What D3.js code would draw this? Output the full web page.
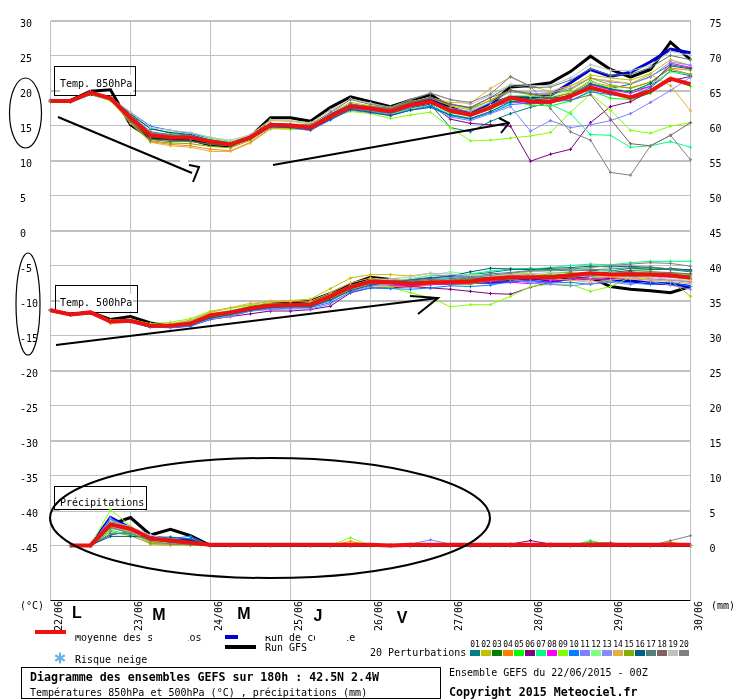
<!doctype html>
<html>
	<head>
		<meta charset="utf-8">
		<style type="text/css">
			body { margin: 0; background: white; }
			svg { will-change: transform; }
			text { font-family: "DejaVu Sans Mono", monospace; font-size: 10px; fill: black; }
		</style>
		<script src="https://d3js.org/d3.v7.min.js"></script>
	</head>
	<body>
		<svg width="740" height="700"></svg>
		<script type="text/javascript">

			var dayLabels = ["22/06", "23/06", "24/06", "25/06", "26/06", "27/06", "28/06", "29/06", "30/06"];
			var dayTicks = [0, 4, 8, 12, 16, 20, 24, 28, 32];
			var weekDays = ["L", "M", "M", "J", "V"];
			var tempTicks = [30, 25, 20, 15, 10, 5, 0, -5, -10, -15, -20, -25, -30, -35, -40, -45];
			var rainTicks = [75, 70, 65, 60, 55, 50, 45, 40, 35, 30, 25, 20, 15, 10, 5, 0];
			var perturbNames = ["01", "02", "03", "04", "05", "06", "07", "08", "09", "10", "11", "12", "13", "14", "15", "16", "17", "18", "19", "20"];
			var perturbColors = ["#008080", "#c0c000", "#008000", "#ff8000", "#00ff00", "#800080", "#00ff80", "#ff00ff", "#80ff00", "#0080ff", "#8080ff", "#80ff80", "#8888ff", "#e0b040", "#80b000", "#006080", "#508080", "#806060", "#c0c0c0", "#808080"];

			// temperature 850hPa
			var t850Mean = [18.5, 18.5, 19.7, 18.9, 16.1, 13.6, 13.3, 13.3, 12.7, 12.3, 13.3, 15.1, 15, 14.7, 16.3, 17.7, 17.4, 17, 17.9, 18.4, 17.1, 16.5, 17.6, 19, 18.4, 18.4, 19.2, 20.4, 19.7, 19, 19.9, 21.7, 20.9];
			var t850Gfs = [18.5, 18.6, 19.9, 20.1, 15.1, 13.2, 13.1, 13, 12.2, 12.1, 13.4, 16.1, 16.1, 15.6, 17.6, 19.1, 18.4, 17.7, 18.6, 19.4, 17.6, 16.6, 18, 20.5, 20.7, 21.1, 22.7, 24.9, 23, 21.9, 23, 26.9, 24.4];
			var t850Control = [18.5, 18.5, 19.7, 18.9, 16.2, 13.5, 13.2, 13.2, 12.7, 12.3, 13.3, 15.1, 15, 14.7, 16.5, 17.9, 17.5, 17.2, 18.1, 18.8, 17.2, 16.7, 18, 19.1, 19, 19.3, 21.1, 23, 22, 22.6, 24.1, 25.9, 25.4];
			var t850P01 = [18.6, 18.3, 19.4, 18.6, 16.6, 14.6, 13.9, 13.6, 12.9, 12.5, 13.3, 14.9, 14.8, 14.5, 16.1, 17.4, 17.1, 16.7, 17.6, 18, 14.7, 14.1, 15.6, 16.7, 17.6, 18.3, 19.5, 21, 20.3, 20.9, 22, 23.7, 23.2];
			var t850P02 = [18.5, 18.6, 19.8, 19, 16.5, 13.9, 13.5, 13.3, 12.8, 12.4, 13.6, 15.7, 15.6, 15.2, 16.9, 18.3, 17.8, 17.5, 18.4, 18.9, 17.8, 17.2, 18.6, 19.9, 19.4, 19.6, 20.6, 22.2, 21.8, 21.5, 22.4, 24.4, 23.6];
			var t850P03 = [18.5, 18.5, 19.6, 18.8, 15.7, 13.1, 12.9, 12.8, 12.3, 12.1, 13.1, 14.9, 14.8, 14.6, 16.4, 17.8, 17.5, 17.2, 18, 18.5, 17.3, 16.8, 17.9, 19.3, 18.9, 19, 19.6, 21.4, 20.2, 19.9, 20.6, 22.8, 22.3];
			var t850P04 = [18.4, 18.5, 19.7, 18.8, 15.5, 12.7, 12.3, 12.1, 11.6, 11.4, 12.6, 14.6, 14.6, 14.5, 16.1, 17.6, 17.2, 16.8, 17.7, 18.5, 17, 16.4, 17.4, 18.8, 18.6, 18.8, 19.7, 21.2, 20.6, 20.4, 21.2, 23.2, 22.9];
			var t850P05 = [18.5, 18.4, 19.6, 18.7, 15.9, 13.4, 13.2, 13.1, 12.8, 12.6, 13.5, 15.2, 15, 14.8, 16.2, 17.5, 17.2, 16.9, 17.7, 18.2, 16.8, 16.4, 17.3, 18.6, 17.9, 17.8, 18.5, 20, 18.9, 18.7, 19.6, 21.7, 20.6];
			var t850P06 = [18.6, 18.4, 19.5, 18.7, 16, 13.4, 13.3, 13.4, 13, 12.7, 13.3, 14.8, 14.7, 14.4, 16, 17.4, 17.1, 16.7, 17.5, 18.1, 15.9, 15.3, 15.1, 14.9, 9.9, 10.9, 11.6, 15.4, 17.7, 18.4, 19.9, 21.4, 22];
			var t850P07 = [18.5, 18.5, 19.7, 18.9, 16.2, 13.7, 13.5, 13.5, 13, 12.6, 13.4, 15.1, 14.9, 14.6, 16, 17.3, 17, 16.6, 17.4, 17.9, 16.6, 16, 17, 18.2, 18.7, 18, 16.7, 13.7, 13.6, 11.9, 12.1, 12.7, 11.9];
			var t850P08 = [18.6, 18.6, 19.8, 19, 16.2, 13.5, 13.2, 13.1, 12.6, 12.2, 13.3, 15, 15, 14.8, 16.5, 17.9, 17.4, 17, 17.9, 18.3, 17.2, 16.7, 17.6, 18.4, 18.1, 18.2, 18.9, 20.8, 20.1, 19.6, 20.6, 23.9, 23.3];
			var t850P09 = [18.5, 18.4, 19.5, 18.5, 15.8, 13.7, 13.9, 14, 13.3, 12.7, 13.5, 14.6, 14.4, 14.7, 16.2, 17, 16.7, 16, 16.5, 16.9, 14.7, 12.8, 12.9, 13.2, 13.5, 14, 16.9, 19.5, 17.2, 14.3, 13.9, 14.9, 15.4];
			var t850P10 = [18.4, 18.4, 19.6, 18.9, 16.9, 14.9, 14.3, 13.9, 13.1, 12.6, 13.2, 14.9, 14.7, 14.3, 15.8, 17.2, 16.9, 16.5, 17.2, 17.8, 16.4, 15.9, 16.8, 18, 18.2, 18.4, 18.6, 19.8, 19.4, 19.1, 20.4, 22.7, 22.1];
			var t850P11 = [18.5, 18.5, 19.6, 18.8, 16.4, 13.8, 13.4, 13.2, 12.6, 12.1, 13, 14.7, 14.6, 14.3, 15.9, 17.2, 16.8, 16.4, 17.2, 17.6, 16.2, 15.7, 16.7, 17.7, 14.2, 15.7, 14.7, 15.1, 15.7, 16.7, 18.3, 20, 21.9];
			var t850P12 = [18.5, 18.6, 19.8, 19, 16, 13.5, 13.5, 13.6, 13.1, 12.7, 13.6, 15.3, 15.1, 14.9, 16.3, 17.6, 17.3, 16.9, 17.7, 18.2, 17.2, 16.6, 17.9, 19.3, 19.2, 19.1, 19.8, 21.3, 20.4, 19.8, 20.9, 22.6, 22.4];
			var t850P13 = [18.6, 18.5, 19.7, 18.9, 16.5, 14, 13.6, 13.4, 12.8, 12.3, 13.2, 14.9, 14.8, 14.6, 16.1, 17.5, 17.1, 16.8, 17.6, 18.2, 17.5, 17, 18.3, 19.8, 19.5, 19.7, 20.3, 21.8, 21.2, 21, 21.9, 24.1, 23.6];
			var t850P14 = [18.4, 18.4, 19.5, 18.6, 15.3, 12.6, 12.1, 11.9, 11.3, 11.3, 12.5, 14.5, 14.6, 14.7, 16.4, 18, 17.6, 17.3, 18.4, 19, 18.3, 18.2, 20.3, 21.9, 20.6, 19.9, 20.7, 21.7, 21.4, 21, 22.3, 20.7, 17.1];
			var t850P15 = [18.5, 18.5, 19.7, 18.8, 15.4, 12.8, 12.5, 12.4, 12, 11.8, 12.9, 14.8, 14.9, 14.9, 16.5, 18, 17.7, 17.5, 18.4, 18.9, 18, 17.4, 18.6, 20.1, 19.4, 19.4, 20.1, 21.8, 20.8, 20.3, 21.2, 23.1, 22.3];
			var t850P16 = [18.6, 18.5, 19.6, 18.9, 16.7, 14.5, 14, 13.7, 12.9, 12.4, 13.2, 14.8, 14.7, 14.4, 15.9, 17.3, 16.9, 16.4, 17.2, 17.6, 16.5, 16, 17, 18.4, 18.6, 18.9, 19.2, 20.9, 20.2, 19.8, 21, 23.5, 23.1];
			var t850P17 = [18.5, 18.5, 19.7, 18.9, 16.6, 14.1, 13.7, 13.5, 12.8, 12.3, 13.3, 15.1, 15, 14.8, 16.4, 18.1, 17.6, 17.2, 18.2, 18.9, 18.1, 17.5, 19, 20.7, 20.4, 20.5, 21.5, 23.1, 22.2, 22.3, 23.3, 25, 24.4];
			var t850P18 = [18.5, 18.5, 19.6, 18.8, 15.6, 13, 12.7, 12.7, 12.3, 12.1, 13.2, 15, 15, 14.9, 16.6, 18, 17.7, 17.4, 18.3, 19, 18, 17.6, 19, 20, 19.6, 18.9, 18.6, 19.4, 15.9, 12.4, 12.1, 13.6, 15.4];
			var t850P19 = [18.6, 18.6, 19.8, 19, 16.9, 14.7, 14.3, 14, 13.3, 12.9, 13.7, 15.8, 15.7, 15.4, 17.2, 18.8, 18.2, 17.6, 18.7, 19.7, 18.7, 18, 19.3, 20.9, 20.7, 20.7, 21.8, 23.7, 22.9, 22.8, 23.6, 25.6, 25];
			var t850P20 = [18.5, 18.6, 19.7, 18.9, 16.4, 13.9, 13.6, 13.4, 12.9, 12.5, 13.5, 15.3, 15.2, 15.1, 16.9, 18.7, 18, 17.6, 18.7, 19.6, 18.7, 18.3, 19.5, 22, 20.6, 17.4, 14.1, 12.9, 8.3, 7.9, 12.1, 13.6, 10.1];

			// temperature 500hPa
			var t500Mean = [-11.4, -12, -11.7, -13, -12.9, -13.6, -13.6, -13.3, -12.1, -11.7, -11.1, -10.7, -10.6, -10.6, -9.4, -8.1, -7.3, -7.4, -7.6, -7.4, -7.4, -7.3, -6.9, -6.7, -6.7, -6.7, -6.4, -6.1, -6.3, -6.3, -6.3, -6.4, -6.7];
			var t500Gfs = [-11.4, -12, -11.7, -12.7, -12.3, -13.2, -13.7, -13.4, -12.1, -11.7, -11, -10.5, -10.4, -10.1, -9, -7.7, -6.7, -7, -7.3, -7.5, -7.3, -7, -6.6, -6.7, -6.7, -6.6, -6.6, -6.7, -8, -8.4, -8.6, -8.9, -8];
			var t500Control = [-11.4, -12, -11.7, -13, -12.9, -13.7, -13.7, -13.5, -12.3, -11.9, -11.3, -10.9, -10.8, -10.8, -9.7, -8.2, -7.5, -7.6, -7.7, -7.5, -7.5, -7.4, -7.4, -7.3, -7, -7.2, -6.9, -6.9, -7, -7.2, -7.5, -7.6, -8];
			var t500P01 = [-11.4, -12, -11.8, -12.9, -13, -13.6, -13.5, -13.1, -12, -11.5, -10.9, -10.6, -10.5, -10.4, -9.3, -7.8, -7.1, -7, -7, -6.7, -6.6, -6.3, -6, -5.6, -5.4, -5.6, -5.5, -5.7, -5.8, -5.4, -5.5, -5.6, -5.9];
			var t500P02 = [-11.4, -11.9, -11.6, -13, -12.8, -13.5, -13.4, -12.9, -11.7, -11.1, -10.6, -10.1, -10, -9.8, -8.3, -6.8, -6.3, -6.3, -6.5, -6.1, -6.8, -6.8, -6.5, -6.2, -6.1, -6.4, -6.7, -7, -6.7, -6.5, -6.3, -7.2, -9.4];
			var t500P03 = [-11.4, -12, -11.7, -13.1, -12.9, -13.7, -13.6, -13.4, -12.3, -12, -11.2, -10.9, -10.7, -10.7, -9.6, -8.3, -7.6, -7.7, -7.9, -7.7, -7.6, -7.6, -7.3, -6.9, -6.7, -6.4, -6.2, -6, -6, -5.7, -5.6, -5.4, -5.7];
			var t500P04 = [-11.4, -12.1, -11.8, -13.2, -13, -13.7, -13.6, -13.4, -12.4, -11.9, -11.2, -10.8, -10.9, -10.7, -9.9, -8.3, -7.9, -8, -8.1, -7.8, -7.4, -7.2, -6.9, -6.6, -6.4, -6.8, -7.1, -6.8, -6.7, -6.9, -7.1, -7, -7.3];
			var t500P05 = [-11.4, -12, -11.8, -13, -13, -13.6, -13.7, -13.5, -12.4, -12.1, -11.4, -11, -10.9, -10.8, -10, -8.4, -7.8, -7.7, -7.6, -7.4, -7.2, -6.9, -6.5, -6.8, -6.9, -6.6, -6.3, -6.6, -6.4, -6, -5.9, -6.1, -6.3];
			var t500P06 = [-11.4, -12, -11.8, -13, -13.1, -13.7, -13.8, -13.6, -12.7, -12.3, -11.9, -11.5, -11.5, -11.3, -10.8, -8.9, -8.2, -8.2, -8, -8.2, -8.4, -8.7, -9, -9.1, -8.1, -7.4, -7, -6.5, -6.1, -5.9, -6.2, -6.4, -6.6];
			var t500P07 = [-11.4, -11.9, -11.7, -12.9, -12.8, -13.5, -13.4, -13, -11.9, -11.6, -11, -10.6, -10.6, -10.6, -9.5, -8.2, -7.5, -7.5, -7.4, -7.2, -6.9, -6.2, -5.8, -5.5, -5.5, -5.3, -5, -4.8, -4.9, -4.6, -4.4, -4.4, -4.4];
			var t500P08 = [-11.4, -12, -11.7, -13, -12.9, -13.6, -13.5, -13.3, -12.2, -11.7, -11.1, -10.8, -10.7, -10.8, -9.6, -8.2, -7.7, -7.8, -7.9, -7.7, -7.7, -7.6, -7.3, -7.4, -7.6, -7.2, -6.9, -6.9, -7, -6.8, -6.5, -6.7, -6.9];
			var t500P09 = [-11.4, -12, -11.6, -12.8, -12.7, -13.3, -13.1, -12.6, -11.5, -11.1, -10.7, -10.4, -10.4, -10.5, -9.7, -8.4, -7.7, -8.1, -8.9, -9.6, -10.9, -10.6, -10.6, -9.4, -8, -7.7, -7.7, -8.7, -8, -6.7, -6.5, -6.3, -6.5];
			var t500P10 = [-11.4, -12, -11.8, -13.1, -13.1, -13.8, -13.9, -13.7, -12.7, -12.2, -11.5, -11.2, -11.1, -11, -10.3, -8.8, -8.2, -8.3, -8.4, -8.2, -7.9, -8, -7.8, -7.3, -7.2, -7.5, -7.4, -7.7, -7.2, -7.5, -7.7, -7.4, -8];
			var t500P11 = [-11.4, -11.9, -11.7, -13.1, -13, -13.7, -13.8, -13.6, -12.6, -12.3, -11.5, -11.3, -11.2, -11.2, -10.5, -8.7, -8, -7.4, -6.9, -6.4, -6.4, -6.7, -6.9, -7, -7.5, -7.7, -7.9, -7.6, -7.4, -7.7, -7.3, -7.8, -8.4];
			var t500P12 = [-11.4, -12, -11.7, -12.9, -12.8, -13.5, -13.4, -13.1, -11.9, -11.4, -10.9, -10.6, -10.5, -10.3, -9.1, -7.9, -7.1, -7.1, -6.9, -6.4, -5.9, -6.3, -6.5, -6.3, -5.9, -5.8, -5.7, -5.4, -6, -6.1, -5.9, -6.2, -6.5];
			var t500P13 = [-11.4, -12, -11.8, -13.1, -13.1, -13.8, -13.7, -13.5, -12.6, -12.2, -11.3, -11.1, -11, -10.9, -10.1, -8.5, -7.8, -7.7, -7.3, -6.9, -6.7, -6.5, -6.7, -7, -7.3, -6.9, -6.6, -6.4, -6.2, -6.5, -6.9, -7.1, -7.4];
			var t500P14 = [-11.4, -12, -11.7, -13.3, -13.1, -13.6, -13.3, -12.8, -11.6, -11, -10.4, -10.2, -10.1, -10.1, -8.9, -7.5, -6.8, -7, -7.2, -7, -7.2, -7.1, -6.8, -6.4, -6.6, -6.9, -7.1, -7.4, -7.1, -6.8, -7, -7.3, -7.6];
			var t500P15 = [-11.4, -12, -11.7, -13, -12.9, -13.6, -13.5, -13.3, -12.3, -11.8, -11.2, -10.8, -10.7, -10.5, -9.2, -7.9, -7.4, -7.5, -7.6, -7.3, -7.6, -7.7, -7.1, -7, -6.8, -6.1, -6, -6.3, -6.5, -6.4, -6.2, -6.6, -7];
			var t500P16 = [-11.4, -12.1, -11.8, -13.1, -13, -13.7, -13.7, -13.5, -12.5, -12, -11.4, -11, -10.9, -10.9, -9.9, -8.6, -7.8, -7.3, -7.1, -6.8, -6.5, -5.9, -5.4, -5.5, -5.6, -5.4, -5.3, -5.1, -5.2, -5.1, -5.3, -5.5, -5.6];
			var t500P17 = [-11.4, -12, -11.7, -13, -13, -13.6, -13.6, -13.4, -12.2, -11.8, -11.1, -10.7, -10.6, -10.6, -9.4, -8, -7.4, -7.2, -7.2, -7, -6.9, -6.6, -6.2, -6, -5.7, -5.6, -5.8, -5.6, -5.5, -5.3, -5.2, -5.5, -5.8];
			var t500P18 = [-11.4, -12, -11.7, -13, -12.9, -13.6, -13.6, -13.4, -12.2, -11.9, -11.2, -10.8, -10.8, -10.7, -9.6, -8.2, -7.5, -7.3, -7.5, -7.4, -7.1, -6.8, -6.7, -6.4, -6.3, -6.6, -6.8, -6.1, -6.2, -6, -5.9, -6, -6.2];
			var t500P19 = [-11.4, -12, -11.6, -12.9, -12.8, -13.5, -13.5, -13.2, -12, -11.5, -11, -10.6, -10.5, -10.4, -9.3, -7.9, -7.2, -6.9, -6.6, -6.1, -6.2, -6.4, -6.6, -6.3, -6.2, -6, -6.4, -6.7, -6.5, -6.8, -6.7, -7, -7.1];
			var t500P20 = [-11.4, -12, -11.7, -13, -12.9, -13.6, -13.6, -13.3, -12.1, -11.6, -11, -10.7, -10.6, -10.5, -9.4, -8, -7.3, -7.5, -7.7, -7.6, -7.1, -6.8, -6.4, -6.1, -5.8, -5.7, -5.5, -5.3, -5, -4.8, -4.6, -4.7, -5.1];

			// precipitation, no value at the first step
			var rainMean = [null, 0, 0, 3, 2.4, 1, 0.7, 0.4, 0.1, 0.1, 0.1, 0.1, 0.1, 0.1, 0.1, 0.1, 0.1, 0, 0.1, 0.1, 0.1, 0.1, 0.1, 0.1, 0.1, 0.1, 0.1, 0.1, 0.1, 0.1, 0.1, 0.1, 0.1];
			var rainGfs = [null, 0, 0, 3, 4, 1.5, 2.3, 1.4, 0, 0, 0, 0, 0, 0, 0, 0, 0, 0, 0, 0, 0, 0, 0, 0, 0, 0, 0, 0, 0, 0, 0, 0, 0];
			var rainControl = [null, 0, 0, 4, 2.5, 1.1, 0.8, 0.7, 0, 0, 0, 0, 0, 0, 0, 0, 0, 0, 0, 0, 0, 0, 0, 0, 0, 0, 0, 0, 0, 0, 0, 0, 0];
			var rainP01 = [null, 0, 0, 1.5, 2, 1, 0.5, 0.2, 0, 0, 0, 0, 0, 0, 0, 0, 0, 0, 0, 0, 0, 0, 0, 0, 0, 0, 0, 0, 0, 0, 0, 0.4, 0];
			var rainP02 = [null, 0, 0, 2.4, 2.2, 0.6, 0.4, 0.2, 0, 0, 0, 0, 0, 0, 0, 0, 0, 0, 0, 0, 0, 0, 0, 0, 0, 0, 0, 0, 0, 0, 0, 0, 0];
			var rainP03 = [null, 0, 0, 2.9, 2.1, 1.2, 0.7, 0.3, 0, 0, 0, 0, 0, 0, 0, 0, 0, 0, 0, 0, 0, 0, 0, 0, 0, 0, 0, 0, 0, 0, 0, 0, 0];
			var rainP04 = [null, 0, 0, 3.2, 2.5, 0.5, 0.3, 0.2, 0, 0, 0, 0, 0, 0, 0, 0.6, 0, 0, 0, 0, 0, 0, 0, 0, 0, 0, 0, 0, 0, 0, 0, 0.5, 0];
			var rainP05 = [null, 0, 0, 2.7, 1.6, 0.9, 0.5, 0.3, 0, 0, 0, 0, 0, 0, 0, 0, 0, 0, 0, 0, 0, 0, 0, 0, 0, 0, 0, 0, 0, 0, 0, 0, 0];
			var rainP06 = [null, 0, 0, 3.4, 2.4, 1.3, 0.8, 0.4, 0, 0, 0, 0, 0, 0, 0, 0, 0, 0, 0, 0, 0, 0, 0, 0.2, 0.7, 0.2, 0, 0, 0, 0, 0, 0, 0];
			var rainP07 = [null, 0, 0, 2.2, 1.5, 0.7, 0.6, 0.4, 0, 0, 0, 0, 0, 0, 0, 0, 0, 0, 0, 0, 0, 0, 0, 0, 0, 0, 0, 0.7, 0, 0, 0, 0, 0];
			var rainP08 = [null, 0, 0, 3, 2.6, 1, 0.4, 0.2, 0, 0, 0, 0, 0, 0, 0, 0, 0, 0, 0, 0, 0, 0, 0, 0, 0, 0, 0, 0, 0, 0, 0, 0, 0];
			var rainP09 = [null, 0, 0, 5.1, 2.8, 0.2, 0.1, 0, 0, 0, 0, 0, 0, 0, 0, 1.1, 0, 0, 0, 0, 0, 0, 0, 0, 0, 0, 0, 0, 0, 0, 0, 0, 0];
			var rainP10 = [null, 0, 0, 3.7, 2.2, 1.4, 1, 1.3, 0, 0, 0, 0, 0, 0, 0, 0, 0, 0, 0, 0, 0, 0, 0, 0, 0, 0, 0, 0, 0, 0, 0, 0, 0];
			var rainP11 = [null, 0, 0, 2.6, 1.9, 1.5, 0.9, 1, 0, 0, 0, 0, 0, 0, 0, 0, 0, 0, 0.2, 0.8, 0.2, 0, 0, 0, 0, 0, 0, 0, 0, 0, 0, 0, 0];
			var rainP12 = [null, 0, 0, 3.5, 2.7, 0.8, 0.3, 0.1, 0, 0, 0, 0, 0, 0, 0, 0, 0, 0, 0, 0, 0, 0, 0, 0, 0, 0, 0, 0, 0, 0, 0, 0, 0];
			var rainP13 = [null, 0, 0, 3.9, 2.3, 1.1, 0.6, 0.3, 0, 0, 0, 0, 0, 0, 0, 0, 0, 0, 0, 0, 0, 0, 0, 0, 0, 0, 0, 0, 0, 0, 0, 0, 0];
			var rainP14 = [null, 0, 0, 2.8, 2, 0.2, 0, 0.1, 0, 0, 0, 0, 0, 0, 0, 0, 0, 0, 0, 0, 0, 0, 0, 0, 0, 0, 0, 0, 0, 0, 0, 0, 0];
			var rainP15 = [null, 0, 0, 2, 1.4, 0.3, 0.2, 0.1, 0, 0, 0, 0, 0, 0, 0, 0, 0, 0, 0, 0, 0, 0, 0, 0, 0, 0, 0, 0.5, 0.3, 0, 0, 0, 0];
			var rainP16 = [null, 0, 0, 1.3, 1.3, 1.2, 1.2, 0.9, 0, 0, 0, 0, 0, 0, 0, 0, 0, 0, 0, 0, 0, 0, 0, 0, 0, 0, 0, 0, 0, 0, 0, 0, 0];
			var rainP17 = [null, 0, 0, 1.7, 1.7, 0.8, 0.5, 0.3, 0, 0, 0, 0, 0, 0, 0, 0, 0, 0, 0, 0, 0, 0, 0, 0, 0, 0, 0, 0, 0, 0, 0, 0, 0];
			var rainP18 = [null, 0, 0, 3.1, 2.4, 0.9, 0.4, 0.2, 0, 0, 0, 0, 0, 0, 0, 0, 0, 0, 0, 0, 0, 0, 0, 0, 0, 0, 0, 0.3, 0.4, 0, 0, 0.3, 0];
			var rainP19 = [null, 0, 0, 3.3, 2.7, 1.5, 0.7, 0.4, 0, 0, 0, 0, 0, 0, 0, 0, 0, 0, 0, 0, 0, 0, 0, 0, 0, 0, 0, 0, 0, 0, 0, 0, 0];
			var rainP20 = [null, 0, 0, 2.5, 1.8, 0.6, 0.2, 0.1, 0, 0, 0, 0, 0, 0, 0, 0, 0, 0, 0, 0, 0, 0, 0, 0, 0, 0, 0, 0, 0, 0, 0, 0.7, 1.4];

			var t850Members = [t850P01, t850P02, t850P03, t850P04, t850P05, t850P06, t850P07, t850P08, t850P09, t850P10, t850P11, t850P12, t850P13, t850P14, t850P15, t850P16, t850P17, t850P18, t850P19, t850P20];
			var t500Members = [t500P01, t500P02, t500P03, t500P04, t500P05, t500P06, t500P07, t500P08, t500P09, t500P10, t500P11, t500P12, t500P13, t500P14, t500P15, t500P16, t500P17, t500P18, t500P19, t500P20];
			var rainMembers = [rainP01, rainP02, rainP03, rainP04, rainP05, rainP06, rainP07, rainP08, rainP09, rainP10, rainP11, rainP12, rainP13, rainP14, rainP15, rainP16, rainP17, rainP18, rainP19, rainP20];

			var svg = d3.select("svg");

			var x = d3.scaleLinear().domain([0, 32]).range([50.5, 690.5]);
			var yTemp = d3.scaleLinear().domain([-52.857, 30]).range([600.5, 20.5]);
			var yRain = d3.scaleLinear().domain([-7.857, 75]).range([600.5, 20.5]);

			// grid
			var grid = svg.append("g").style("shape-rendering", "crispEdges");
			grid.selectAll(".h").data(tempTicks).enter().append("line")
				.attr("x1", x(0)).attr("x2", x(32))
				.attr("y1", (d) => yTemp(d)).attr("y2", (d) => yTemp(d))
				.style("stroke", "#c0c0c0")
				.style("stroke-width", (d) => d % 10 == 0 ? 2 : 1);
			grid.selectAll(".v").data(dayTicks).enter().append("line")
				.attr("x1", (d) => x(d)).attr("x2", (d) => x(d))
				.attr("y1", 21).attr("y2", 600)
				.style("stroke", "#c0c0c0");
			// the note's arrow was drawn on a patch that cut the 10 line
			grid.append("rect").attr("x", 180).attr("y", 159).attr("width", 8).attr("height", 4).style("fill", "white");

			// axes, labels sit a little under their grid line
			var leftAxis = svg.append("g")
				.attr("transform", "translate(50.5,0)")
				.call(d3.axisLeft(yTemp).tickValues(tempTicks).tickSize(0).tickFormat((d) => d));
			leftAxis.select(".domain").remove();
			leftAxis.selectAll("text").attr("x", -30.5).attr("dy", 6).style("text-anchor", "start").style("font-family", "'DejaVu Sans Mono'").style("font-size", "10px");

			var rightAxis = svg.append("g")
				.attr("transform", "translate(690.5,0)")
				.call(d3.axisRight(yRain).tickValues(rainTicks).tickSize(0).tickFormat((d) => d));
			rightAxis.select(".domain").remove();
			rightAxis.selectAll("text").attr("x", 19).attr("dy", 6).style("text-anchor", "start").style("font-family", "'DejaVu Sans Mono'").style("font-size", "10px");

			var bottomAxis = svg.append("g")
				.attr("transform", "translate(0,600.5)")
				.call(d3.axisBottom(x).tickValues(dayTicks).tickSize(0).tickFormat((d, i) => dayLabels[i]));
			bottomAxis.select(".domain").attr("d", "M50.5,0H690.5").style("stroke", "black").style("stroke-width", 1);
			bottomAxis.selectAll("text")
				.attr("transform", "translate(10.5,30.5) rotate(-90)")
				.attr("x", 0).attr("y", 0).attr("dy", 0)
				.style("text-anchor", "start").style("font-family", "'DejaVu Sans Mono'").style("font-size", "10px");

			svg.append("text").attr("x", 20).attr("y", 609).text("(°C)");
			svg.append("text").attr("x", 711).attr("y", 609).text("(mm)");

			// boxes of the three panels, the label has its own white ground
			[["Temp. 850hPa", 54.5, 66.5, 81, 29, 87],
			 ["Temp. 500hPa", 55.5, 285.5, 82, 27, 306],
			 ["Précipitations", 54.5, 486.5, 92, 23, 506]].forEach(function(b) {
				svg.append("rect").attr("x", 60).attr("y", b[5] - 12).attr("width", b[0].length * 6 + 1).attr("height", 17).style("fill", "white");
				svg.append("rect").attr("x", b[1]).attr("y", b[2]).attr("width", b[3]).attr("height", b[4])
					.style("fill", "none").style("stroke", "black");
				svg.append("text").attr("x", 60).attr("y", b[5]).text(b[0]);
			});

			// ensemble lines
			var crossMark = d3.symbol().type(d3.symbolCross).size(6);

			function drawPanel(members, control, gfs, mean, y) {
				var line = d3.line()
					.defined((d) => d != null)
					.x((d, i) => x(i))
					.y((d) => y(d));

				var g = svg.append("g");

				[[gfs, "#000000", 3], [control, "#0000d0", 3]].forEach(function(s) {
					g.append("path")
						.attr("d", line(s[0]))
						.style("fill", "none")
						.style("stroke", s[1])
						.style("stroke-width", s[2]);
				});

				var member = g.selectAll(".member").data(members).enter().append("g").attr("class", "member");
				member.append("path")
					.attr("d", (d) => line(d))
					.style("fill", "none")
					.style("stroke-width", 1)
					.style("stroke", (d, i) => perturbColors[i]);
				member.each(function(d, k) {
					d3.select(this).selectAll("path.mark")
						.data(d.map((v, i) => [v, i]).filter((p) => p[0] != null)).enter()
						.append("path")
						.attr("class", "mark")
						.attr("d", crossMark)
						.attr("transform", (p) => `translate(${x(p[1])},${y(p[0])})`)
						.style("fill", perturbColors[k]);
				});

				g.append("path")
					.attr("d", line(mean))
					.style("fill", "none")
					.style("stroke", "#ee1111")
					.style("stroke-width", 4);
			}

			drawPanel(t850Members, t850Control, t850Gfs, t850Mean, yTemp);
			drawPanel(t500Members, t500Control, t500Gfs, t500Mean, yTemp);
			drawPanel(rainMembers, rainControl, rainGfs, rainMean, yRain);

			// hand drawn notes
			var notes = svg.append("g").style("fill", "none").style("stroke", "black");
			notes.append("ellipse").attr("cx", 25.5).attr("cy", 113).attr("rx", 16).attr("ry", 35).style("stroke-width", 1.2);
			notes.append("ellipse").attr("cx", 28).attr("cy", 304).attr("rx", 12).attr("ry", 51).style("stroke-width", 1.2);
			notes.append("ellipse").attr("cx", 270).attr("cy", 518).attr("rx", 220).attr("ry", 60).style("stroke-width", 2);

			[[[58, 117], [192, 173]], [[189, 165], [199, 167], [193, 182]],
			 [[273, 165], [509, 123]], [[499, 118], [509, 123], [501, 133]],
			 [[56, 345], [438, 298]], [[410, 296], [438, 298], [418, 314]]].forEach(function(pts) {
				notes.append("path").attr("d", d3.line()(pts)).style("stroke-width", 2);
			});

			// week days
			var dayX = [77, 159, 244, 318, 402];
			var dayY = [618, 620, 619, 621, 623];
			svg.selectAll(".weekday").data(weekDays).enter().append("text")
				.attr("x", (d, i) => dayX[i]).attr("y", (d, i) => dayY[i])
				.style("text-anchor", "middle")
				.style("font-family", "'Liberation Sans'")
				.style("font-size", "16px")
				.style("font-weight", "bold")
				.text((d) => d);

			// legend
			svg.append("text").attr("x", 75).attr("y", 641).text("Moyenne des scénarios");
			svg.append("text").attr("x", 265).attr("y", 641).text("Run de contrôle");
			svg.append("rect").attr("x", 70).attr("y", 630).attr("width", 46).attr("height", 5).style("fill", "white");
			svg.append("rect").attr("x", 152).attr("y", 630).attr("width", 36).attr("height", 14).style("fill", "white");
			svg.append("rect").attr("x", 315).attr("y", 630).attr("width", 32).attr("height", 14).style("fill", "white");
			svg.append("rect").attr("x", 262).attr("y", 630).attr("width", 12).attr("height", 6).style("fill", "white");
			svg.append("rect").attr("x", 35).attr("y", 630).attr("width", 31).attr("height", 4).style("fill", "#ee1111");
			svg.append("rect").attr("x", 225).attr("y", 635).attr("width", 13).attr("height", 4).style("fill", "#0000d0");
			svg.append("rect").attr("x", 225).attr("y", 645).attr("width", 31).attr("height", 4).style("fill", "black");
			svg.append("text").attr("x", 265).attr("y", 651).text("Run GFS");
			svg.append("text").attr("x", 75).attr("y", 663).text("Risque neige");

			var flake = svg.append("g").attr("transform", "translate(60,658)").style("stroke", "#6ab4e8").style("stroke-width", 2.2);
			[0, 60, 120].forEach(function(a) {
				flake.append("line").attr("x1", 0).attr("y1", -5.5).attr("x2", 0).attr("y2", 5.5).attr("transform", `rotate(${a})`);
			});

			svg.append("text").attr("x", 370).attr("y", 656).text("20 Perturbations");
			svg.selectAll(".swatch").data(perturbNames).enter().append("rect")
				.attr("x", (d, i) => 470 + i * 11).attr("y", 650)
				.attr("width", 10).attr("height", 6)
				.style("fill", (d, i) => perturbColors[i]);
			svg.selectAll(".swatchname").data(perturbNames).enter().append("text")
				.attr("x", (d, i) => 475 + i * 11).attr("y", 647)
				.style("text-anchor", "middle")
				.style("font-size", "8px")
				.text((d) => d);

			// title block
			svg.append("rect").attr("x", 21.5).attr("y", 667.5).attr("width", 419).attr("height", 31)
				.style("fill", "white").style("stroke", "black");
			svg.append("text").attr("x", 30).attr("y", 681)
				.style("font-size", "11.6px").style("font-weight", "bold")
				.text("Diagramme des ensembles GEFS sur 180h : 42.5N 2.4W");
			svg.append("text").attr("x", 30).attr("y", 696)
				.text("Températures 850hPa et 500hPa (°C) , précipitations (mm)");
			svg.append("text").attr("x", 449).attr("y", 676)
				.text("Ensemble GEFS du 22/06/2015 - 00Z");
			svg.append("text").attr("x", 449).attr("y", 696)
				.style("font-size", "11.6px").style("font-weight", "bold")
				.text("Copyright 2015 Meteociel.fr");
		</script>
	</body>
</html>
